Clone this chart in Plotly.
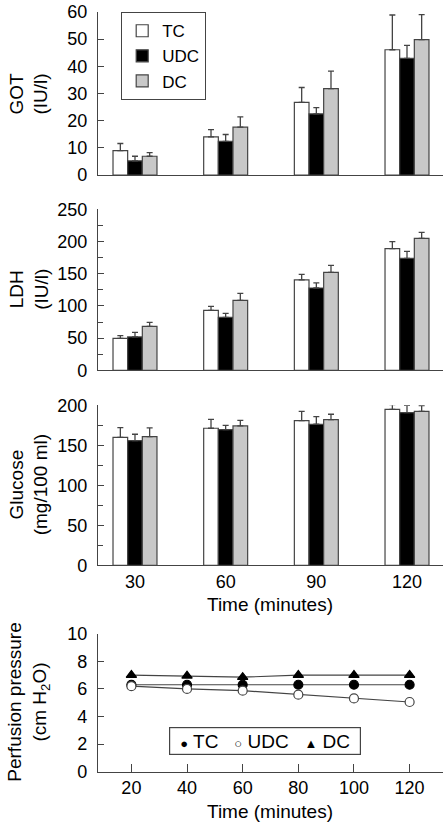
import plotly.graph_objects as go

# ---------------- data ----------------
times = ["30", "60", "90", "120"]
groups = ["TC", "UDC", "DC"]

got_tc = [9.0, 14.0, 26.7, 46.1]
got_udc = [5.2, 12.4, 22.5, 42.9]
got_dc = [6.9, 17.6, 31.8, 49.8]
got_tc_err = [2.6, 2.7, 5.5, 12.8]
got_udc_err = [1.7, 2.5, 2.3, 4.8]
got_dc_err = [1.3, 3.8, 6.4, 9.2]

ldh_tc = [49.7, 93.2, 140.3, 188.9]
ldh_udc = [51.8, 82.3, 127.8, 173.9]
ldh_dc = [68.3, 108.7, 152.2, 205.0]
ldh_tc_err = [4.1, 6.2, 8.8, 10.9]
ldh_udc_err = [7.2, 6.2, 7.8, 10.9]
ldh_dc_err = [6.2, 10.9, 10.8, 9.3]

glu_tc = [160.0, 171.3, 180.8, 195.0]
glu_udc = [155.8, 169.6, 176.3, 190.8]
glu_dc = [160.8, 174.2, 182.1, 192.5]
glu_tc_err = [12.0, 11.0, 11.7, 5.8]
glu_udc_err = [8.0, 5.4, 9.6, 9.2]
glu_dc_err = [11.0, 7.0, 6.7, 7.1]

pp_time = [20, 40, 60, 80, 100, 120]
pp_tc = [6.3, 6.3, 6.3, 6.3, 6.3, 6.3]
pp_udc = [6.2, 6.0, 5.87, 5.58, 5.31, 5.05]
pp_dc = [7.0, 6.95, 6.85, 7.0, 7.0, 7.0]

# ---------------- style ----------------
FONT = "Liberation Sans"
FS = 18
TFS = 19
AX = "#444444"
W, H = 445, 823
bar_fill = {"TC": "white", "UDC": "black", "DC": "#c8c8c8"}


def py(p):  # pixel y -> paper
    return 1 - p / H


def px(p):  # pixel x -> paper
    return p / W


xdom = [px(98), px(443)]
doms = [
    [py(175), py(12)],
    [py(370.3), py(209.3)],
    [py(565.3), py(405.3)],
    [py(771.7), py(633.7)],
]

fig = go.Figure()

panels = [
    ("", [got_tc, got_udc, got_dc], [got_tc_err, got_udc_err, got_dc_err]),
    ("2", [ldh_tc, ldh_udc, ldh_dc], [ldh_tc_err, ldh_udc_err, ldh_dc_err]),
    ("3", [glu_tc, glu_udc, glu_dc], [glu_tc_err, glu_udc_err, glu_dc_err]),
]

for i, (sfx, vals, errs) in enumerate(panels):
    for g, v, e in zip(groups, vals, errs):
        fig.add_trace(go.Bar(
            x=times, y=v, name=g,
            marker=dict(color=bar_fill[g], line=dict(color=AX, width=1.2)),
            error_y=dict(type="data", symmetric=False, array=e,
                         arrayminus=[0] * len(e), color=AX,
                         thickness=1.3, width=3),
            xaxis="x" + sfx, yaxis="y" + sfx,
            showlegend=(i == 0), legend="legend",
        ))

# perfusion pressure
line_specs = [
    ("TC", pp_tc, "circle", "black", "black"),
    ("UDC", pp_udc, "circle", "white", AX),
    ("DC", pp_dc, "triangle-up", "black", "black"),
]
for name, v, sym, fill, lc in line_specs:
    fig.add_trace(go.Scatter(
        x=pp_time, y=v, mode="lines", line=dict(color=AX, width=1.2),
        xaxis="x4", yaxis="y4", showlegend=False, hoverinfo="skip"))
for name, v, sym, fill, lc in line_specs:
    fig.add_trace(go.Scatter(
        x=pp_time, y=v, mode="markers", name=name,
        marker=dict(symbol=sym, size=9, color=fill,
                    line=dict(color=lc, width=1.2)),
        xaxis="x4", yaxis="y4", showlegend=False))

common_y = dict(showline=True, linecolor=AX, linewidth=1.3, ticks="inside",
                ticklen=6, tickcolor=AX, tickwidth=1.3, showgrid=False,
                zeroline=False, tickfont=dict(family=FONT, size=FS, color="black"),
                ticklabelstandoff=6, automargin=False, ticklabeloverflow="allow")
common_x = dict(showline=True, linecolor=AX, linewidth=1.3, showgrid=False,
                zeroline=False, tickfont=dict(family=FONT, size=FS, color="black"),
                domain=xdom, automargin=False)

cat_range = [-0.408, 3.397]

fig.update_layout(
    template="none",
    width=W, height=H,
    margin=dict(l=0, r=0, t=0, b=0, pad=0),
    paper_bgcolor="white", plot_bgcolor="white",
    font=dict(family=FONT, size=FS, color="black"),
    barmode="group", bargap=0.515, bargroupgap=0,
    xaxis=dict(**common_x, type="category", anchor="y", range=cat_range,
               showticklabels=False, ticks=""),
    xaxis2=dict(**common_x, type="category", anchor="y2", range=cat_range,
                showticklabels=False, ticks=""),
    xaxis3=dict(**common_x, type="category", anchor="y3", range=cat_range, ticks=""),
    xaxis4=dict(**common_x, anchor="y4", range=[8, 132], tickvals=pp_time,
                ticks="inside", ticklen=8, tickcolor=AX, tickwidth=1.3),
    yaxis=dict(**common_y, domain=doms[0], range=[0, 60], tickvals=[0, 10, 20, 30, 40, 50, 60]),
    yaxis2=dict(**common_y, domain=doms[1], range=[0, 250], tickvals=[0, 50, 100, 150, 200, 250],
                minor=dict(tickvals=[25, 75, 125, 175, 225], ticks="inside", ticklen=5,
                           tickcolor=AX, tickwidth=1.3)),
    yaxis3=dict(**common_y, domain=doms[2], range=[0, 200], tickvals=[0, 50, 100, 150, 200],
                minor=dict(tickvals=[25, 75, 125, 175], ticks="inside", ticklen=5,
                           tickcolor=AX, tickwidth=1.3)),
    yaxis4=dict(**common_y, domain=doms[3], range=[0, 10], tickvals=[0, 2, 4, 6, 8, 10]),
    legend=dict(x=px(121), y=py(12), xanchor="left", yanchor="top",
                bordercolor=AX, borderwidth=1.2, bgcolor="white",
                font=dict(family=FONT, size=17), traceorder="normal",
                itemwidth=30),
)

annots = [
    ("GOT<br>(IU/l)", (12 + 175) / 2),
    ("LDH<br>(IU/l)", (209.3 + 370.3) / 2),
    ("Glucose<br>(mg/100 ml)", (405.3 + 565.3) / 2),
    ("Perfusion pressure<br>(cm H<sub>2</sub>O)", (633.7 + 771.7) / 2),
]
for t, yc in annots:
    fig.add_annotation(text=t, x=px(29), y=py(yc), xref="paper", yref="paper",
                       textangle=-90, showarrow=False, xanchor="center", yanchor="middle",
                       font=dict(family=FONT, size=TFS))

for yc in (604, 811):
    fig.add_annotation(text="Time (minutes)", x=px(270), y=py(yc), xref="paper", yref="paper",
                       showarrow=False, xanchor="center", yanchor="middle",
                       font=dict(family=FONT, size=TFS))

# legend box of the perfusion panel
sym = lambda s: '<span style="font-size:13px">' + s + '</span>'
leg2 = sym("\u25CF") + " TC   " + sym("\u25CB") + " UDC   " + sym("\u25B2") + " DC"
fig.add_annotation(text=leg2, x=px(265), y=py(741), xref="paper", yref="paper",
                   showarrow=False, xanchor="center", yanchor="middle",
                   font=dict(family=FONT, size=TFS), bordercolor=AX, borderwidth=1.2,
                   borderpad=2, bgcolor="white", width=186, height=22)

fig.write_html("out.html", config={"displayModeBar": False},
               post_script="document.body.style.margin='0';document.body.style.padding='0';")
